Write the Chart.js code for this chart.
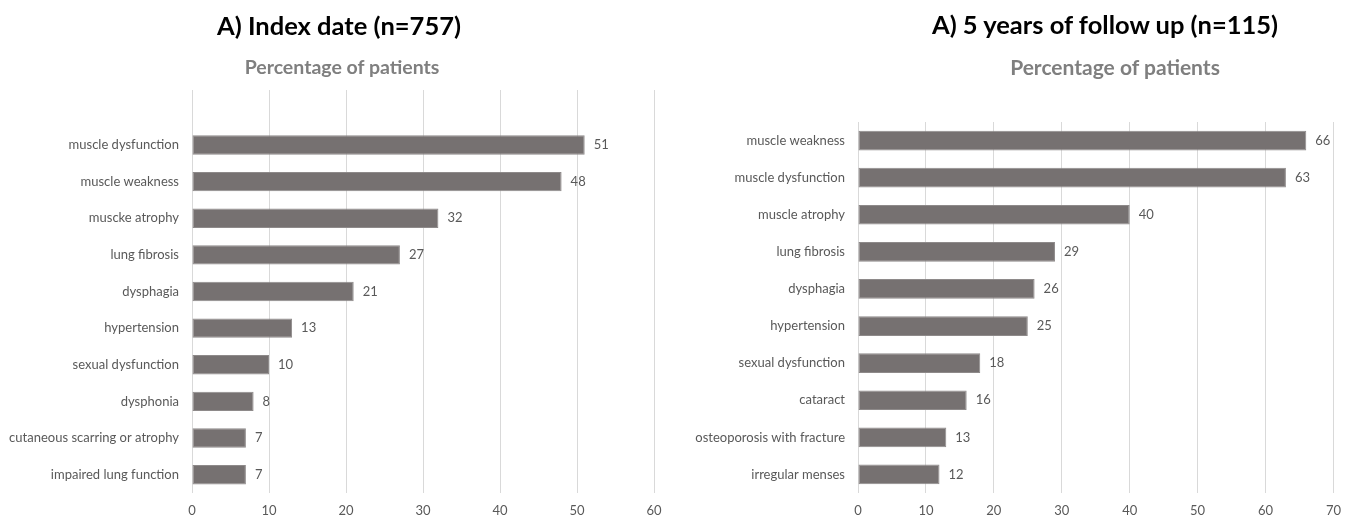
<!DOCTYPE html>
<html>
<head>
<meta charset="utf-8">
<script src="https://cdn.jsdelivr.net/npm/chart.js@4.4.1/dist/chart.umd.min.js"></script>
<style>
  html, body { margin: 0; padding: 0; background: #ffffff; }
  #wrap { position: relative; width: 1351px; height: 519px; overflow: hidden; background: #fff; }
  .pane { position: absolute; top: 0; height: 519px; }
  .title { position: absolute; text-align: center; font-family: Lato, "Open Sans", sans-serif; font-weight: bold; color: #000; font-size: 25.5px; line-height: 30px; white-space: nowrap; }
  .sub { position: absolute; text-align: center; font-family: Lato, "Open Sans", sans-serif; font-weight: bold; color: #7f7f7f; white-space: nowrap; }
</style>
</head>
<body>
<div id="wrap">
  <div class="pane" style="left:0;width:680px;"><canvas id="c1" width="680" height="519"></canvas></div>
  <div class="pane" style="left:680px;width:671px;"><canvas id="c2" width="671" height="519"></canvas></div>
  <div class="title" style="left:39px;width:600px;top:10px;">A) Index date (n=757)</div>
  <div class="sub" style="left:42px;width:600px;top:56px;font-size:19.5px;line-height:22px;">Percentage of patients</div>
  <div class="title" style="left:805px;width:600px;top:9px;">A) 5 years of follow up (n=115)</div>
  <div class="sub" style="left:815px;width:600px;top:55px;font-size:21px;line-height:24px;">Percentage of patients</div>
</div>
<script>
// ---- Data ----
const indexCategories = ["muscle dysfunction", "muscle weakness", "muscke atrophy", "lung fibrosis", "dysphagia", "hypertension", "sexual dysfunction", "dysphonia", "cutaneous scarring or atrophy", "impaired lung function"];
const indexValues = [51, 48, 32, 27, 21, 13, 10, 8, 7, 7];
const indexTicks = [0, 10, 20, 30, 40, 50, 60];

const followCategories = ["muscle weakness", "muscle dysfunction", "muscle atrophy", "lung fibrosis", "dysphagia", "hypertension", "sexual dysfunction", "cataract", "osteoporosis with fracture", "irregular menses"];
const followValues = [66, 63, 40, 29, 26, 25, 18, 16, 13, 12];
const followTicks = [0, 10, 20, 30, 40, 50, 60, 70];

// ---- Styling ----
const FONT = "Lato, 'Open Sans', sans-serif";
const TEXT = "#595959";
const BAR = "#767171";
const BAR_EDGE = "#8e8a8a";
const GRID = "#d9d9d9";

const valueLabels = {
  id: "valueLabels",
  afterDatasetsDraw(chart) {
    const ctx = chart.ctx;
    const ds = chart.data.datasets[0];
    const meta = chart.getDatasetMeta(0);
    ctx.save();
    ctx.font = "13px " + FONT;
    ctx.fillStyle = TEXT;
    ctx.textAlign = "left";
    ctx.textBaseline = "middle";
    meta.data.forEach((bar, i) => {
      const v = ds.data[i];
      if (v === null || v === undefined) return;
      ctx.fillText(String(v), bar.x + 9, bar.y);
    });
    ctx.restore();
  }
};

function makeChart(id, cats, vals, ticks, opts) {
  const labels = opts.blankTop ? [""].concat(cats) : cats.slice();
  const data = opts.blankTop ? [null].concat(vals) : vals.slice();
  return new Chart(document.getElementById(id), {
    type: "bar",
    data: {
      labels: labels,
      datasets: [{
        data: data,
        backgroundColor: BAR,
        borderColor: BAR_EDGE,
        borderWidth: 1,
        borderSkipped: false,
        categoryPercentage: 1.0,
        barPercentage: 0.53
      }]
    },
    options: {
      indexAxis: "y",
      responsive: false,
      animation: false,
      devicePixelRatio: 1,
      layout: { padding: { top: opts.top, right: opts.right, bottom: 0, left: 0 } },
      plugins: { legend: { display: false }, tooltip: { enabled: false }, title: { display: false } },
      scales: {
        x: {
          min: ticks[0],
          max: ticks[ticks.length - 1],
          afterBuildTicks(scale) { scale.ticks = ticks.map(v => ({ value: v })); },
          afterFit(scale) { scale.height = 26; },
          grid: { color: GRID, lineWidth: 1, drawTicks: false },
          border: { display: false },
          ticks: { color: TEXT, font: { family: FONT, size: 13 }, padding: 10 }
        },
        y: {
          afterFit(scale) { scale.width = opts.yWidth; },
          grid: { display: false, drawTicks: false },
          border: { display: false },
          ticks: { color: TEXT, font: { family: FONT, size: 13 }, padding: 13, autoSkip: false }
        }
      }
    },
    plugins: [valueLabels]
  });
}

makeChart("c1", indexCategories, indexValues, indexTicks, { blankTop: true, top: 90, right: 26, yWidth: 192 });
makeChart("c2", followCategories, followValues, followTicks, { blankTop: false, top: 122, right: 12, yWidth: 178 });
</script>
</body>
</html>
